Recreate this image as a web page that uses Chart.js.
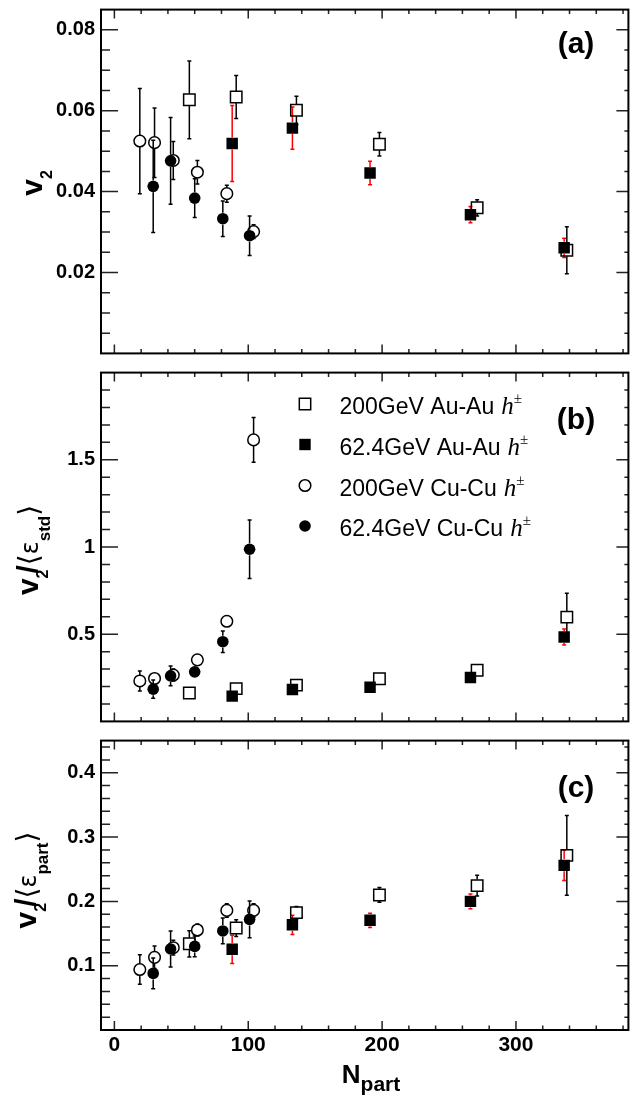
<!DOCTYPE html>
<html>
<head>
<meta charset="utf-8">
<script src="https://cdn.jsdelivr.net/npm/chart.js@4.4.1/dist/chart.umd.min.js"></script>
<style>
  html, body { margin: 0; padding: 0; background: #fff; }
  #wrap { position: relative; width: 638px; height: 1101px; }
  canvas { position: absolute; left: 0; }
</style>
</head>
<body>
<div id="wrap">
  <canvas id="panelA" width="638" height="363" style="top:0"></canvas>
  <canvas id="panelB" width="638" height="368" style="top:363px"></canvas>
  <canvas id="panelC" width="638" height="370" style="top:731px"></canvas>
</div>
<script>
// N_part of each centrality bin
const npartAu200 = [56, 91, 136, 198, 271, 338];
const npartAu62 = [88, 133, 191, 266, 336];
const npartCu200 = [19, 30, 44, 62, 84, 104];
const npartCu62 = [29, 42, 60, 81, 101];

const seriesLabels = ['200GeV Au-Au', '62.4GeV Au-Au', '200GeV Cu-Cu', '62.4GeV Cu-Cu'];

// (a) v2
const v2Au200 = [0.0627, 0.0634, 0.0601, 0.0517, 0.0360, 0.0255];
const v2Au200Err = [0.0096, 0.0053, 0.0035, 0.0029, 0.0020, 0.0058];
const v2Au62 = [0.0519, 0.0557, 0.0446, 0.0343, 0.0261];
const v2Au62Err = [0.0094, 0.0052, 0.0029, 0.0020, 0.0024];
const v2Cu200 = [0.0525, 0.0521, 0.0477, 0.0448, 0.0395, 0.0301];
const v2Cu200Err = [0.0130, 0.0086, 0.0047, 0.0029, 0.0021, 0.0017];
const v2Cu62 = [0.0413, 0.0476, 0.0384, 0.0333, 0.0291];
const v2Cu62Err = [0.0114, 0.0107, 0.0048, 0.0044, 0.0049];

// (b) v2 / <eps_std>
const stdAu200 = [0.163, 0.188, 0.208, 0.245, 0.293, 0.598];
const stdAu200Err = [0, 0, 0, 0, 0, 0.137];
const stdAu62 = [0.145, 0.183, 0.196, 0.252, 0.484];
const stdAu62Err = [0, 0, 0, 0, 0.046];
const stdCu200 = [0.232, 0.246, 0.266, 0.353, 0.574, 1.614];
const stdCu200Err = [0.057, 0.030, 0.035, 0, 0, 0.128];
const stdCu62 = [0.185, 0.261, 0.284, 0.457, 0.987];
const stdCu62Err = [0.052, 0.057, 0.029, 0.062, 0.168];

// (c) v2 / <eps_part>
const partAu200 = [0.134, 0.1585, 0.1825, 0.210, 0.2245, 0.2715];
const partAu200Err = [0.0205, 0.013, 0.0095, 0.0115, 0.016, 0.062];
const partAu62 = [0.1255, 0.1635, 0.1705, 0.200, 0.256];
const partAu62Err = [0.022, 0.015, 0.011, 0.0115, 0.0235];
const partCu200 = [0.094, 0.113, 0.128, 0.1555, 0.186, 0.186];
const partCu200Err = [0.023, 0.0175, 0.0115, 0.0095, 0.0105, 0.0105];
const partCu62 = [0.088, 0.126, 0.130, 0.154, 0.172];
const partCu62Err = [0.024, 0.028, 0.016, 0.020, 0.0285];

const xTickValues = [0, 100, 200, 300];
const xTickLabels = ['0', '100', '200', '300'];
const yTicksA = [0.02, 0.04, 0.06, 0.08];
const yLabelsA = ['0.02', '0.04', '0.06', '0.08'];
const yTicksB = [0.5, 1, 1.5];
const yLabelsB = ['0.5', '1', '1.5'];
const yTicksC = [0.1, 0.2, 0.3, 0.4];
const yLabelsC = ['0.1', '0.2', '0.3', '0.4'];

const SANS = '"Liberation Sans", Arial, sans-serif';
const BOLD = (px) => `bold ${px}px ${SANS}`;
Chart.defaults.font.family = SANS;
Chart.defaults.color = '#000';

const titleA = [{ t: 'v', f: BOLD(30) }, { t: '2', f: BOLD(16), dy: 10 }];
const titleB = [{ t: 'v', f: BOLD(30) }, { t: '2', f: BOLD(16), dy: 10 }, { t: '/', f: BOLD(30), dx: -4 },
  { t: '⟨', f: '28px "DejaVu Sans"' }, { t: 'ε', f: '24px "DejaVu Sans"' }, { t: 'std', f: BOLD(17), dy: 12 },
  { t: '⟩', f: '28px "DejaVu Sans"' }];
const titleC = [{ t: 'v', f: BOLD(30) }, { t: '2', f: BOLD(16), dy: 10 }, { t: '/', f: BOLD(30), dx: -4 },
  { t: '⟨', f: '28px "DejaVu Sans"' }, { t: 'ε', f: '24px "DejaVu Sans"' }, { t: 'part', f: BOLD(17), dy: 12 },
  { t: '⟩', f: '28px "DejaVu Sans"' }];

const panelCfg = {
  panelA: { yMajor: 0.02, yMinor: 0.005, tag: '(a)', tagBase: 53, titleX: 42, titleY: 183, title: titleA },
  panelB: { yMajor: 0.5, yMinor: 0.1, tag: '(b)', tagBase: 66, titleX: 38, titleY: 187, title: titleB, legend: true },
  panelC: { yMajor: 0.1, yMinor: 0.02, tag: '(c)', tagBase: 66, titleX: 36, titleY: 149, title: titleC, xTitle: true },
};

function drawRich(ctx, segs, x, y, rotate) {
  ctx.save();
  ctx.translate(x, y);
  if (rotate) ctx.rotate(-Math.PI / 2);
  let total = 0;
  segs.forEach((s) => { ctx.font = s.f; s.w = ctx.measureText(s.t).width; total += s.w + (s.dx || 0); });
  let cx = -total / 2;
  ctx.textAlign = 'left';
  ctx.textBaseline = 'alphabetic';
  segs.forEach((s) => {
    cx += s.dx || 0;
    ctx.font = s.f;
    ctx.fillText(s.t, cx, s.dy || 0);
    cx += s.w;
  });
  ctx.restore();
}

function drawMarker(ctx, style, filled, x, y) {
  ctx.save();
  ctx.lineWidth = 1.5;
  ctx.strokeStyle = '#000';
  ctx.fillStyle = '#000';
  ctx.beginPath();
  if (style === 'rect') ctx.rect(x - 5.7, y - 5.7, 11.4, 11.4);
  else ctx.arc(x, y, 5.8, 0, Math.PI * 2);
  if (filled) ctx.fill(); else ctx.stroke();
  ctx.restore();
}

const errorBars = {
  id: 'errorBars',
  beforeDatasetsDraw(chart) {
    const { ctx, scales: { y } } = chart;
    chart.data.datasets.forEach((ds, i) => {
      const meta = chart.getDatasetMeta(i);
      ctx.save();
      ctx.strokeStyle = ds.errorColor;
      ctx.lineWidth = 1.5;
      ctx.beginPath();
      meta.data.forEach((pt, j) => {
        const err = ds.errors[j];
        if (!err) return;
        const v = ds.data[j].y;
        const hi = y.getPixelForValue(v + err);
        const lo = y.getPixelForValue(v - err);
        const gap = 6;
        if (hi < pt.y - gap) {
          ctx.moveTo(pt.x, pt.y - gap); ctx.lineTo(pt.x, hi);
          ctx.moveTo(pt.x - 2, hi); ctx.lineTo(pt.x + 2, hi);
        }
        if (lo > pt.y + gap) {
          ctx.moveTo(pt.x, pt.y + gap); ctx.lineTo(pt.x, lo);
          ctx.moveTo(pt.x - 2, lo); ctx.lineTo(pt.x + 2, lo);
        }
      });
      ctx.stroke();
      ctx.restore();
    });
  },
};

const frameTicks = {
  id: 'frameTicks',
  afterDraw(chart) {
    const cfg = panelCfg[chart.canvas.id];
    const { ctx, chartArea: { left, right, top, bottom }, scales: { x, y } } = chart;
    ctx.save();
    ctx.strokeStyle = '#222';
    ctx.lineWidth = 1.5;
    ctx.beginPath();
    for (let n = Math.ceil(x.min / 20); n * 20 <= x.max; n += 1) {
      const px = x.getPixelForValue(n * 20);
      const major = n % 5 === 0;
      const len = major ? 9 : 4.5;
      ctx.moveTo(px, bottom); ctx.lineTo(px, bottom - len);
      ctx.moveTo(px, top); ctx.lineTo(px, top + len);
    }
    const ratio = Math.round(cfg.yMajor / cfg.yMinor);
    for (let n = 1; n * cfg.yMinor < y.max - 1e-9; n += 1) {
      const py = y.getPixelForValue(n * cfg.yMinor);
      const major = n % ratio === 0;
      ctx.moveTo(left, py); ctx.lineTo(left + (major ? 17 : 9), py);
      ctx.moveTo(right, py); ctx.lineTo(right - (major ? 12 : 4), py);
    }
    ctx.stroke();
    ctx.strokeStyle = '#000';
    ctx.lineWidth = 2;
    ctx.strokeRect(left, top, right - left, bottom - top);
    ctx.restore();
  },
};

const decorations = {
  id: 'decorations',
  afterDraw(chart) {
    const cfg = panelCfg[chart.canvas.id];
    const { ctx } = chart;
    ctx.save();
    ctx.fillStyle = '#000';
    ctx.font = BOLD(30);
    ctx.textAlign = 'center';
    ctx.textBaseline = 'alphabetic';
    ctx.fillText(cfg.tag, 576, cfg.tagBase);
    drawRich(ctx, cfg.title, cfg.titleX, cfg.titleY, true);
    if (cfg.legend) {
      const rows = [41, 81.5, 122.5, 163];
      const styles = [['rect', false], ['rect', true], ['circle', false], ['circle', true]];
      rows.forEach((ry, i) => {
        drawMarker(ctx, styles[i][0], styles[i][1], 305, ry);
        ctx.textAlign = 'left';
        ctx.font = `23px ${SANS}`;
        ctx.fillText(seriesLabels[i], 339.5, ry + 10);
        const hx = 339.5 + ctx.measureText(seriesLabels[i]).width + 7;
        ctx.font = 'italic 25px "Liberation Serif"';
        ctx.fillText('h', hx, ry + 10);
        const px = hx + ctx.measureText('h').width;
        ctx.font = '15px "Liberation Serif"';
        ctx.fillText('±', px, ry - 1);
      });
    }
    if (cfg.xTitle) {
      drawRich(ctx, [{ t: 'N', f: BOLD(26) }, { t: 'part', f: BOLD(21), dy: 8 }], 371, 352, false);
    }
    ctx.restore();
  },
};

function pts(xs, ys) { return xs.map((xv, i) => ({ x: xv, y: ys[i] })); }

function buildDatasets(au200, au200Err, au62, au62Err, cu200, cu200Err, cu62, cu62Err) {
  const open = 'rgba(0,0,0,0)';
  return [
    { label: seriesLabels[0], data: pts(npartAu200, au200), errors: au200Err, errorColor: '#000', pointStyle: 'rect', pointRadius: 8.1, backgroundColor: open, borderColor: '#000', borderWidth: 1.5, order: 2 },
    { label: seriesLabels[1], data: pts(npartAu62, au62), errors: au62Err, errorColor: '#ff0000', pointStyle: 'rect', pointRadius: 8.1, backgroundColor: '#000', borderColor: '#000', borderWidth: 0, order: 0 },
    { label: seriesLabels[2], data: pts(npartCu200, cu200), errors: cu200Err, errorColor: '#000', pointStyle: 'circle', pointRadius: 5.8, backgroundColor: open, borderColor: '#000', borderWidth: 1.5, order: 3 },
    { label: seriesLabels[3], data: pts(npartCu62, cu62), errors: cu62Err, errorColor: '#000', pointStyle: 'circle', pointRadius: 5.8, backgroundColor: '#000', borderColor: '#000', borderWidth: 0, order: 1 },
  ];
}

function makePanel(id, datasets, yMax, yTicks, yLabels, showX, padTop) {
  return new Chart(document.getElementById(id), {
    type: 'scatter',
    data: { datasets },
    options: {
      responsive: false,
      animation: false,
      devicePixelRatio: 1,
      layout: { padding: { top: padTop, right: 1, bottom: 0, left: 0 } },
      elements: { point: { hoverRadius: 0 } },
      scales: {
        x: {
          type: 'linear',
          min: -10,
          max: 384,
          display: showX,
          grid: { display: false, drawTicks: false },
          border: { display: false },
          ticks: { font: { size: 21, weight: 'bold' }, padding: 3, autoSkip: false, maxRotation: 0, callback: (v, i) => xTickLabels[i] },
          afterBuildTicks: (s) => { s.ticks = xTickValues.map((v) => ({ value: v })); },
          afterFit: (s) => { s.height = showX ? 71 : 0; s.paddingLeft = 0; s.paddingRight = 0; },
        },
        y: {
          type: 'linear',
          min: 0,
          max: yMax,
          grid: { display: false, drawTicks: false },
          border: { display: false },
          ticks: { font: { size: 20, weight: 'bold' }, padding: 6, autoSkip: false, callback: (v, i) => yLabels[i] },
          afterBuildTicks: (s) => { s.ticks = yTicks.map((v) => ({ value: v })); },
          afterFit: (s) => { s.width = 101; s.paddingTop = 0; s.paddingBottom = 0; },
        },
      },
      plugins: { legend: { display: false }, tooltip: { enabled: false } },
    },
    plugins: [errorBars, frameTicks, decorations],
  });
}

makePanel('panelA', buildDatasets(v2Au200, v2Au200Err, v2Au62, v2Au62Err, v2Cu200, v2Cu200Err, v2Cu62, v2Cu62Err), 0.085, yTicksA, yLabelsA, false, 3);
makePanel('panelB', buildDatasets(stdAu200, stdAu200Err, stdAu62, stdAu62Err, stdCu200, stdCu200Err, stdCu62, stdCu62Err), 2.0, yTicksB, yLabelsB, false, 0);
makePanel('panelC', buildDatasets(partAu200, partAu200Err, partAu62, partAu62Err, partCu200, partCu200Err, partCu62, partCu62Err), 0.45, yTicksC, yLabelsC, true, 0);
</script>
</body>
</html>
